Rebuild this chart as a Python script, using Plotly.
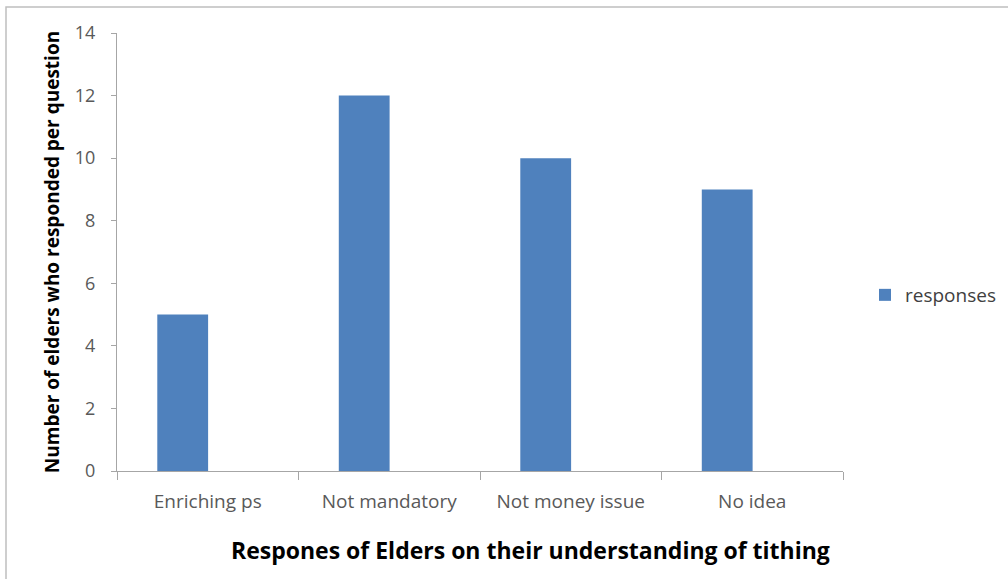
import plotly.graph_objects as go

categories = ["Enriching ps", "Not mandatory", "Not money issue", "No idea"]
responses = [5, 12, 10, 9]
series_name = "responses"
x_title = "Respones of Elders on their understanding of tithing"
y_title = "Number of elders who responded per question"

W, H = 1008, 579
L, R, T, B = 117, 165, 33, 108
PW, PH = W - L - R, H - T - B

fig = go.Figure()
fig.add_trace(go.Bar(x=categories, y=responses, name=series_name,
                     marker=dict(color="#4F81BD", line=dict(width=0)),
                     width=0.28, offset=-0.278, showlegend=True))

font_family = "Open Sans, sans-serif"
fig.update_layout(
    width=W, height=H,
    margin=dict(l=L, r=R, t=T, b=B, autoexpand=False),
    paper_bgcolor="white", plot_bgcolor="white",
    font=dict(family=font_family, color="#595959", size=16),
    showlegend=True,
    legend=dict(x=(865 - L) / PW, xanchor="left", y=(471 - 295) / PH,
                yanchor="middle", font=dict(size=19, color="#404040"),
                itemwidth=30, bgcolor="rgba(0,0,0,0)"),
    xaxis=dict(showline=True, linecolor="#A6A6A6", linewidth=1,
               ticks="outside", tickson="boundaries", ticklen=8,
               tickcolor="#A6A6A6", showgrid=False,
               ticklabelstandoff=13,
               tickfont=dict(size=19, color="#595959")),
    yaxis=dict(range=[0, 14], dtick=2, showline=True, linecolor="#A6A6A6",
               linewidth=1, ticks="outside", ticklen=5, tickcolor="#A6A6A6",
               showgrid=False, zeroline=False, ticklabelstandoff=12,
               tickfont=dict(size=18, color="#595959"),
               title=dict(text="<b>" + y_title + "</b>",
                          font=dict(size=19, color="#000000"), standoff=10)),
    annotations=[dict(text="<b>" + x_title + "</b>", xref="paper", yref="paper",
                      x=(530 - L) / PW, y=-(550 - (H - B)) / PH,
                      xanchor="center", yanchor="middle", showarrow=False,
                      font=dict(size=23, color="#000000", family=font_family))],
    shapes=[dict(type="rect", xref="paper", yref="paper",
                 x0=(6 - L) / PW, x1=(W + 5 - L) / PW,
                 y0=-(B + 10) / PH, y1=1 + (T - 7) / PH,
                 line=dict(color="#BFBFBF", width=1.5), layer="below")],
)

fig.write_html("out.html")
